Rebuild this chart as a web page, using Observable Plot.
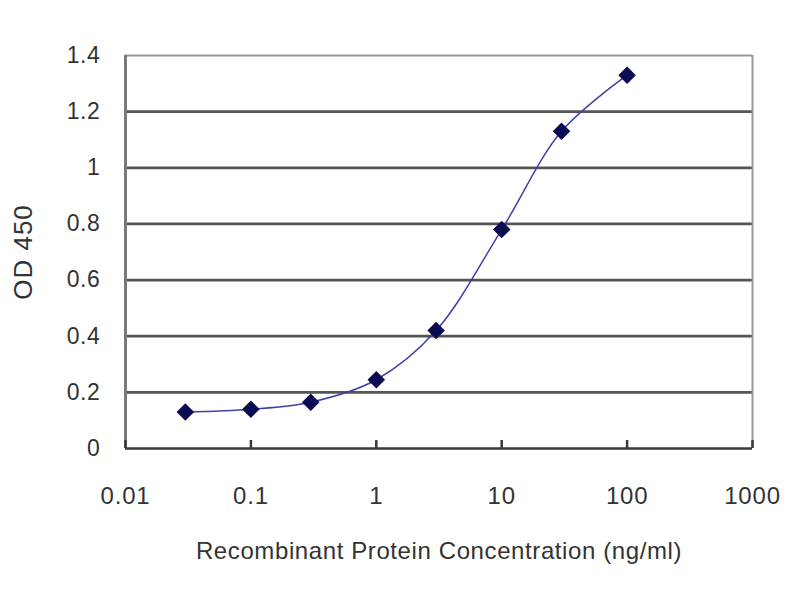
<!DOCTYPE html>
<html>
<head>
<meta charset="utf-8">
<script src="https://cdn.jsdelivr.net/npm/d3@7"></script>
<script src="https://cdn.jsdelivr.net/npm/@observablehq/plot@0.6"></script>
<style>
  html, body { margin: 0; padding: 0; background: #fff; }
  #chart svg { display: block; }
  g[aria-label="x-axis label"] text { font-size: 24px; letter-spacing: 0.6px; }
  g[aria-label="y-axis label"] text { font-size: 26px; letter-spacing: 1px; }
  g[aria-label="x-axis tick label"] text { letter-spacing: 0.8px; }
  g[aria-label="y-axis tick label"] text { letter-spacing: 0.6px; }
</style>
</head>
<body>
<div id="chart"></div>
<script>
const concentrations = [0.03, 0.1, 0.3, 1, 3, 10, 30, 100];
const odValues = [0.13, 0.14, 0.165, 0.245, 0.42, 0.78, 1.13, 1.33];
const xTicks = [0.01, 0.1, 1, 10, 100, 1000];
const xTickLabels = ["0.01", "0.1", "1", "10", "100", "1000"];
const yTicks = [0, 0.2, 0.4, 0.6, 0.8, 1, 1.2, 1.4];
const yTickLabels = ["0", "0.2", "0.4", "0.6", "0.8", "1", "1.2", "1.4"];
const xLabel = "Recombinant Protein Concentration (ng/ml)";
const yLabel = "OD 450";

const data = concentrations.map((c, i) => ({c, od: odValues[i]}));
const gridValues = yTicks.filter(v => v > 0 && v < 1.4);

const chart = Plot.plot({
  width: 800,
  height: 600,
  marginLeft: 125,
  marginRight: 48,
  marginTop: 55,
  marginBottom: 152,
  style: {fontFamily: "'Liberation Sans', Arial, sans-serif", background: "#fff"},
  x: {type: "log", domain: [0.01, 1000]},
  y: {domain: [0, 1.4]},
  marks: [
    Plot.ruleY(gridValues, {stroke: "#555", strokeWidth: 2.8}),
    Plot.ruleY([1.4], {stroke: "#9a9a9a", strokeWidth: 2}),
    Plot.ruleX([1000], {stroke: "#9a9a9a", strokeWidth: 2}),
    Plot.ruleX([0.01], {stroke: "#7a7a7a", strokeWidth: 3}),
    Plot.ruleY([0], {stroke: "#3a3a3a", strokeWidth: 2.5}),
    Plot.axisY({
      ticks: yTicks,
      tickFormat: d => yTickLabels[yTicks.indexOf(d)],
      tickSize: 0,
      tickPadding: 25,
      fontSize: 23,
      color: "#333",
      label: yLabel,
      labelAnchor: "center",
      labelOffset: 112,
      labelArrow: "none"
    }),
    Plot.axisX({
      ticks: xTicks,
      tickFormat: d => xTickLabels[xTicks.indexOf(d)],
      tickSize: -8,
      tickPadding: 46,
      strokeWidth: 2.5,
      stroke: "#3a3a3a",
      fontSize: 24,
      color: "#333",
      label: xLabel,
      labelAnchor: "center",
      labelOffset: 110,
      labelArrow: "none"
    }),
    Plot.line(data, {x: "c", y: "od", curve: "catmull-rom", stroke: "#4040a8", strokeWidth: 1.5}),
    Plot.dot(data, {x: "c", y: "od", symbol: "square", rotate: 45, r: 7, fill: "#0c0c52", stroke: "none"})
  ]
});
document.getElementById("chart").appendChild(chart);
</script>
</body>
</html>
